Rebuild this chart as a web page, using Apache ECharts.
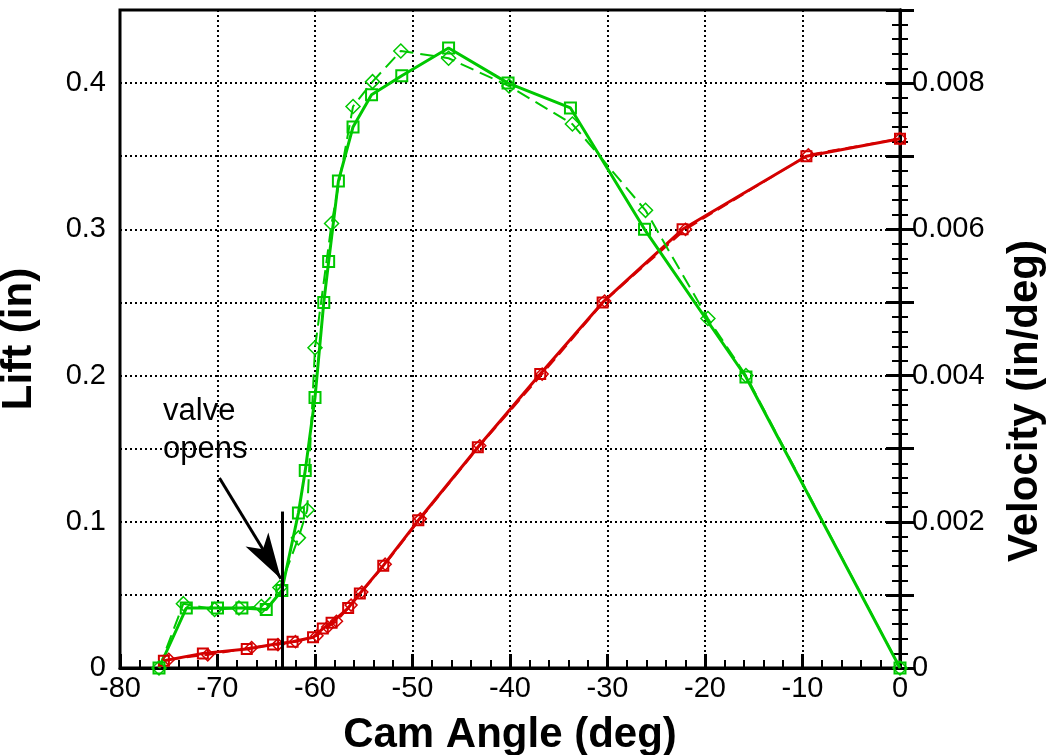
<!DOCTYPE html>
<html lang="en">
<head>
  <meta charset="utf-8">
  <title>Cam Lift and Velocity</title>
  <script src="https://cdn.jsdelivr.net/npm/echarts@6/dist/echarts.min.js"></script>
  <style>
    html, body { margin: 0; padding: 0; background: #fff; }
    #main { width: 1050px; height: 755px; }
  </style>
</head>
<body>
<div id="main"></div>
<script>
  // lift (in), solid line with squares
  var liftCamA = [-75.5, -71.5, -67, -64.3, -62.3, -60.2, -59.2, -58.3, -56.6, -55.4, -53, -49.4, -43.3, -36.9, -30.5, -22.3, -9.6, 0];
  var liftA    = [0.005, 0.010, 0.013, 0.016, 0.018, 0.021, 0.027, 0.031, 0.041, 0.051, 0.070, 0.101, 0.151, 0.201, 0.250, 0.300, 0.350, 0.362];
  // lift (in), dashed line with diamonds
  var liftCamB = [-75, -71, -66.5, -63.8, -62, -59.8, -58.7, -57.8, -56.3, -55.2, -52.8, -49.2, -43.1, -36.7, -30.3, -22, -9.4, 0];
  var liftB    = [0.006, 0.009, 0.014, 0.016, 0.018, 0.022, 0.028, 0.032, 0.043, 0.052, 0.071, 0.102, 0.152, 0.201, 0.251, 0.300, 0.351, 0.362];

  // velocity (in/deg), solid line with squares
  var velCamA = [-76, -73.2, -70, -67.5, -65, -63.4, -61.7, -61, -60, -59.1, -58.6, -57.6, -56.1, -54.2, -51.1, -46.3, -40.2, -33.8, -26.2, -15.8, 0];
  var velA    = [0, 0.00082, 0.00082, 0.00082, 0.0008, 0.00106, 0.00212, 0.0027, 0.0037, 0.005, 0.00556, 0.00666, 0.0074, 0.00784, 0.0081, 0.00848, 0.0080, 0.00766, 0.0060, 0.00398, 0];
  // velocity (in/deg), dashed line with diamonds
  var velCamB = [-76, -73.5, -70.3, -67.8, -65.5, -63.6, -61.7, -60.8, -60, -58.3, -56.1, -54.1, -51.2, -46.3, -40.1, -33.6, -26.1, -19.7, -15.8, 0];
  var velB    = [0, 0.00088, 0.0008, 0.00082, 0.00084, 0.0011, 0.00178, 0.00216, 0.00438, 0.00608, 0.00768, 0.00802, 0.00844, 0.00834, 0.00796, 0.00744, 0.00626, 0.00478, 0.004, 0];

  // "valve opens" marker
  var valveCam = -63.4;
  var valveTop = 0.107;
  var arrowFrom = [-69.8, 0.13];
  var arrowTo = [-63.5, 0.061];

  var green = '#00c800';
  var red = '#d40000';

  function pairs(xs, ys) {
    return xs.map(function (x, i) { return [x, ys[i]]; });
  }

  var tickFont = { fontFamily: 'Liberation Sans', fontSize: 29, color: '#000' };
  var titleFont = { fontFamily: 'Liberation Sans', fontSize: 42, fontWeight: 'bold', color: '#000' };

  var myChart = echarts.init(document.getElementById('main'));
  var option = {
    animation: false,
    grid: {
      left: 120, right: 150, top: 10, bottom: 87,
      show: true, borderColor: '#000', borderWidth: 3,
      containLabel: false, outerBoundsMode: 'none'
    },
    xAxis: {
      type: 'value', min: -80, max: 0, interval: 10,
      name: 'Cam Angle (deg)', nameLocation: 'middle', nameGap: 46,
      nameTextStyle: titleFont,
      axisLine: { lineStyle: { color: '#000', width: 3 } },
      axisTick: { inside: true, length: 14, lineStyle: { color: '#000', width: 3 } },
      minorTick: { show: true, splitNumber: 5, length: 8, lineStyle: { color: '#000', width: 2 } },
      axisLabel: Object.assign({ margin: 6 }, tickFont),
      splitLine: { show: true, lineStyle: { color: '#000', type: [2, 3], width: 2 } }
    },
    yAxis: [{
      type: 'value', min: 0, max: 0.45, interval: 0.05,
      name: 'Lift (in)', nameLocation: 'middle', nameGap: 80, nameRotate: 90,
      nameTextStyle: titleFont,
      axisLine: { lineStyle: { color: '#000', width: 3 } },
      axisTick: { inside: true, length: 14, lineStyle: { color: '#000', width: 3 } },
      minorTick: { show: true, splitNumber: 5, length: 8, lineStyle: { color: '#000', width: 2 } },
      axisLabel: Object.assign({
        margin: 14,
        formatter: function (v) {
          var k = Math.round(v * 100);
          if (k % 10 !== 0 || k > 40) return '';
          return k === 0 ? '0' : (k / 100).toString();
        }
      }, tickFont),
      splitLine: { show: true, lineStyle: { color: '#000', type: [2, 3], width: 2 } }
    }, {
      type: 'value', min: 0, max: 0.009, interval: 0.001, position: 'right',
      axisLine: { show: true, lineStyle: { color: '#000', width: 3 } },
      axisTick: { show: true, inside: true, length: 14, lineStyle: { color: '#000', width: 3 } },
      minorTick: { show: true, splitNumber: 5, length: 8, lineStyle: { color: '#000', width: 2 } },
      axisLabel: Object.assign({
        margin: 12,
        formatter: function (v) {
          var k = Math.round(v * 1000);
          if (k % 2 !== 0 || k > 8) return '';
          return k === 0 ? '0' : (k / 1000).toFixed(3);
        }
      }, tickFont),
      splitLine: { show: false }
    }],
    graphic: [{
      type: 'text', left: 1004, top: 240, rotation: Math.PI / 2,
      style: { text: 'Velocity (in/deg)', font: 'bold 42px "Liberation Sans"', fill: '#000' }
    }, {
      type: 'text', left: 163, top: 392,
      style: { text: 'valve\nopens', fontFamily: 'Liberation Sans', fontSize: 31, lineHeight: 38, fill: '#000' }
    }],
    series: [{
      name: 'Lift', type: 'line', yAxisIndex: 0, data: pairs(liftCamA, liftA),
      symbol: 'rect', symbolSize: 10, showAllSymbol: true,
      lineStyle: { color: red, width: 3 },
      itemStyle: { color: 'rgba(0,0,0,0)', borderColor: red, borderWidth: 2 },
      markLine: {
        silent: true, symbol: ['none', 'none'], label: { show: false },
        lineStyle: { color: '#000', width: 3, type: 'solid' },
        data: [
          [{ coord: [valveCam, 0] }, { coord: [valveCam, valveTop] }]
        ]
      }
    }, {
      name: 'Lift (dashed)', type: 'line', yAxisIndex: 0, data: pairs(liftCamB, liftB),
      symbol: 'diamond', symbolSize: 12, showAllSymbol: true,
      lineStyle: { color: red, width: 2, type: [12, 6] },
      itemStyle: { color: 'rgba(0,0,0,0)', borderColor: red, borderWidth: 1.5 }
    }, {
      name: 'Velocity', type: 'line', yAxisIndex: 1, data: pairs(velCamA, velA),
      symbol: 'rect', symbolSize: 11, showAllSymbol: true,
      lineStyle: { color: green, width: 3 },
      itemStyle: { color: 'rgba(0,0,0,0)', borderColor: green, borderWidth: 2 }
    }, {
      name: 'Velocity (dashed)', type: 'line', yAxisIndex: 1, data: pairs(velCamB, velB),
      symbol: 'diamond', symbolSize: 14, showAllSymbol: true,
      lineStyle: { color: green, width: 2, type: [14, 7] },
      itemStyle: { color: 'rgba(0,0,0,0)', borderColor: green, borderWidth: 1.5 },
      markLine: {
        silent: true, symbol: ['none', 'arrow'], symbolSize: [20, 46], label: { show: false },
        lineStyle: { color: '#000', width: 3, type: 'solid' },
        data: [
          [{ coord: [arrowFrom[0], arrowFrom[1] / 50] }, { coord: [arrowTo[0], arrowTo[1] / 50] }]
        ]
      }
    }]
  };
  myChart.setOption(option);
</script>
</body>
</html>
